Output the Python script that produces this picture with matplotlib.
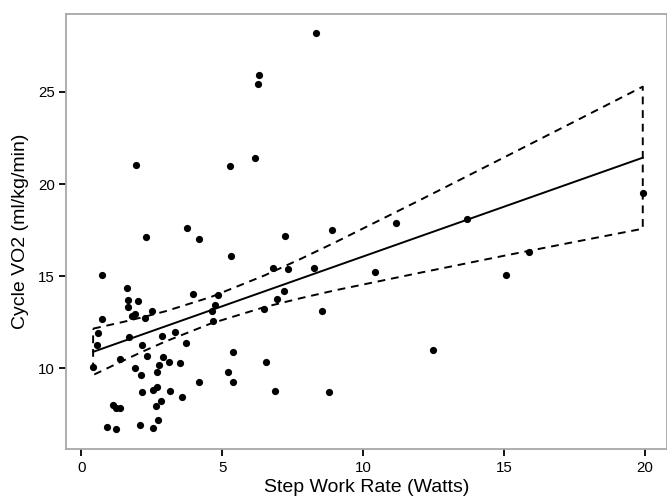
import numpy as np
import matplotlib
matplotlib.use("Agg")
import matplotlib.pyplot as plt

plt.rcParams['font.family'] = ['Liberation Sans', 'DejaVu Sans']

# Scatter data
step_watts = [8.34, 6.31, 6.26, 1.95, 5.27, 6.17, 2.30, 3.74, 4.19, 7.24,
              8.91, 11.17, 13.70, 19.93, 15.88, 15.08, 6.79, 7.33, 8.27, 10.44,
              7.20, 6.95, 6.49, 8.53, 12.48, 6.55, 6.88, 8.80, 0.72, 1.62,
              1.67, 2.00, 1.65, 1.90, 1.79, 2.25, 2.52, 0.75, 3.96, 4.86,
              4.73, 4.63, 4.67, 5.32, 0.60, 0.55, 0.42, 1.71, 2.87, 3.34,
              3.72, 2.16, 2.34, 1.36, 2.89, 3.13, 3.51, 2.77, 1.90, 2.70,
              2.12, 5.39, 5.22, 5.40, 4.18, 3.58, 3.14, 2.55, 2.68, 2.16,
              2.82, 2.66, 1.14, 1.24, 1.39, 2.72, 0.90, 1.23, 2.07, 2.53]
cycle_vo2 = [28.20, 25.92, 25.45, 21.03, 20.98, 21.43, 17.10, 17.61, 17.01, 17.19,
             17.48, 17.86, 18.10, 19.51, 16.30, 15.05, 15.42, 15.36, 15.42, 15.22,
             14.18, 13.77, 13.23, 13.10, 10.96, 10.34, 8.77, 8.70, 15.04, 14.33,
             13.71, 13.66, 13.32, 12.95, 12.83, 12.72, 13.08, 12.68, 14.04, 13.98,
             13.42, 13.10, 12.55, 16.09, 11.90, 11.27, 10.05, 11.68, 11.76, 11.98,
             11.36, 11.23, 10.63, 10.47, 10.58, 10.34, 10.27, 10.14, 10.02, 9.77,
             9.62, 10.85, 9.80, 9.22, 9.26, 8.42, 8.75, 8.80, 8.97, 8.70,
             8.21, 7.95, 8.01, 7.84, 7.81, 7.19, 6.81, 6.68, 6.88, 6.72]

# Fitted line and confidence band
fit_x = [0.42, 19.93]
fit_y = [10.88, 21.43]
band_x = [0.42, 1.5, 2.2, 3.0, 4.6, 6.5, 7.8, 9.0, 12.0, 15.0, 17.5, 19.93]
band_upper = [12.14, 12.51, 12.77, 13.09, 13.86, 15.03, 15.94, 16.82, 19.11, 21.44, 23.39, 25.29]
band_lower = [9.62, 10.41, 10.91, 11.45, 12.42, 13.31, 13.80, 14.22, 15.17, 16.10, 16.85, 17.57]

x_ticks = [0, 5, 10, 15, 20]
y_ticks = [10, 15, 20, 25]

fig = plt.figure(figsize=(6.67, 4.99), dpi=100)
ax = fig.add_axes([0.0997, 0.1002, 0.9003, 0.8718])

ax.scatter(step_watts, cycle_vo2, s=27, color='black', zorder=3, linewidths=0)
ax.plot(fit_x, fit_y, color='black', lw=1.4)
poly_x = list(band_x) + list(band_x[::-1]) + [band_x[0]]
poly_y = list(band_upper) + list(band_lower[::-1]) + [band_upper[0]]
ax.plot(poly_x, poly_y, color='black', lw=1.4, linestyle=(0, (4, 3)))

ax.set_xlim(-0.525, 20.79)
ax.set_ylim(5.6, 29.24)
ax.set_xticks(x_ticks)
ax.set_yticks(y_ticks)
ax.tick_params(axis='both', direction='out', length=5, width=1.3, color='black',
               labelsize=10.8, pad=3.5)
for sp in ax.spines.values():
    sp.set_color('#a8a8a8')
    sp.set_linewidth(1.3)

ax.set_xlabel('Step Work Rate (Watts)', fontsize=14, labelpad=3)
ax.set_ylabel('Cycle VO2 (ml/kg/min)', fontsize=14, labelpad=6)

fig.savefig('out.png', dpi=100)
